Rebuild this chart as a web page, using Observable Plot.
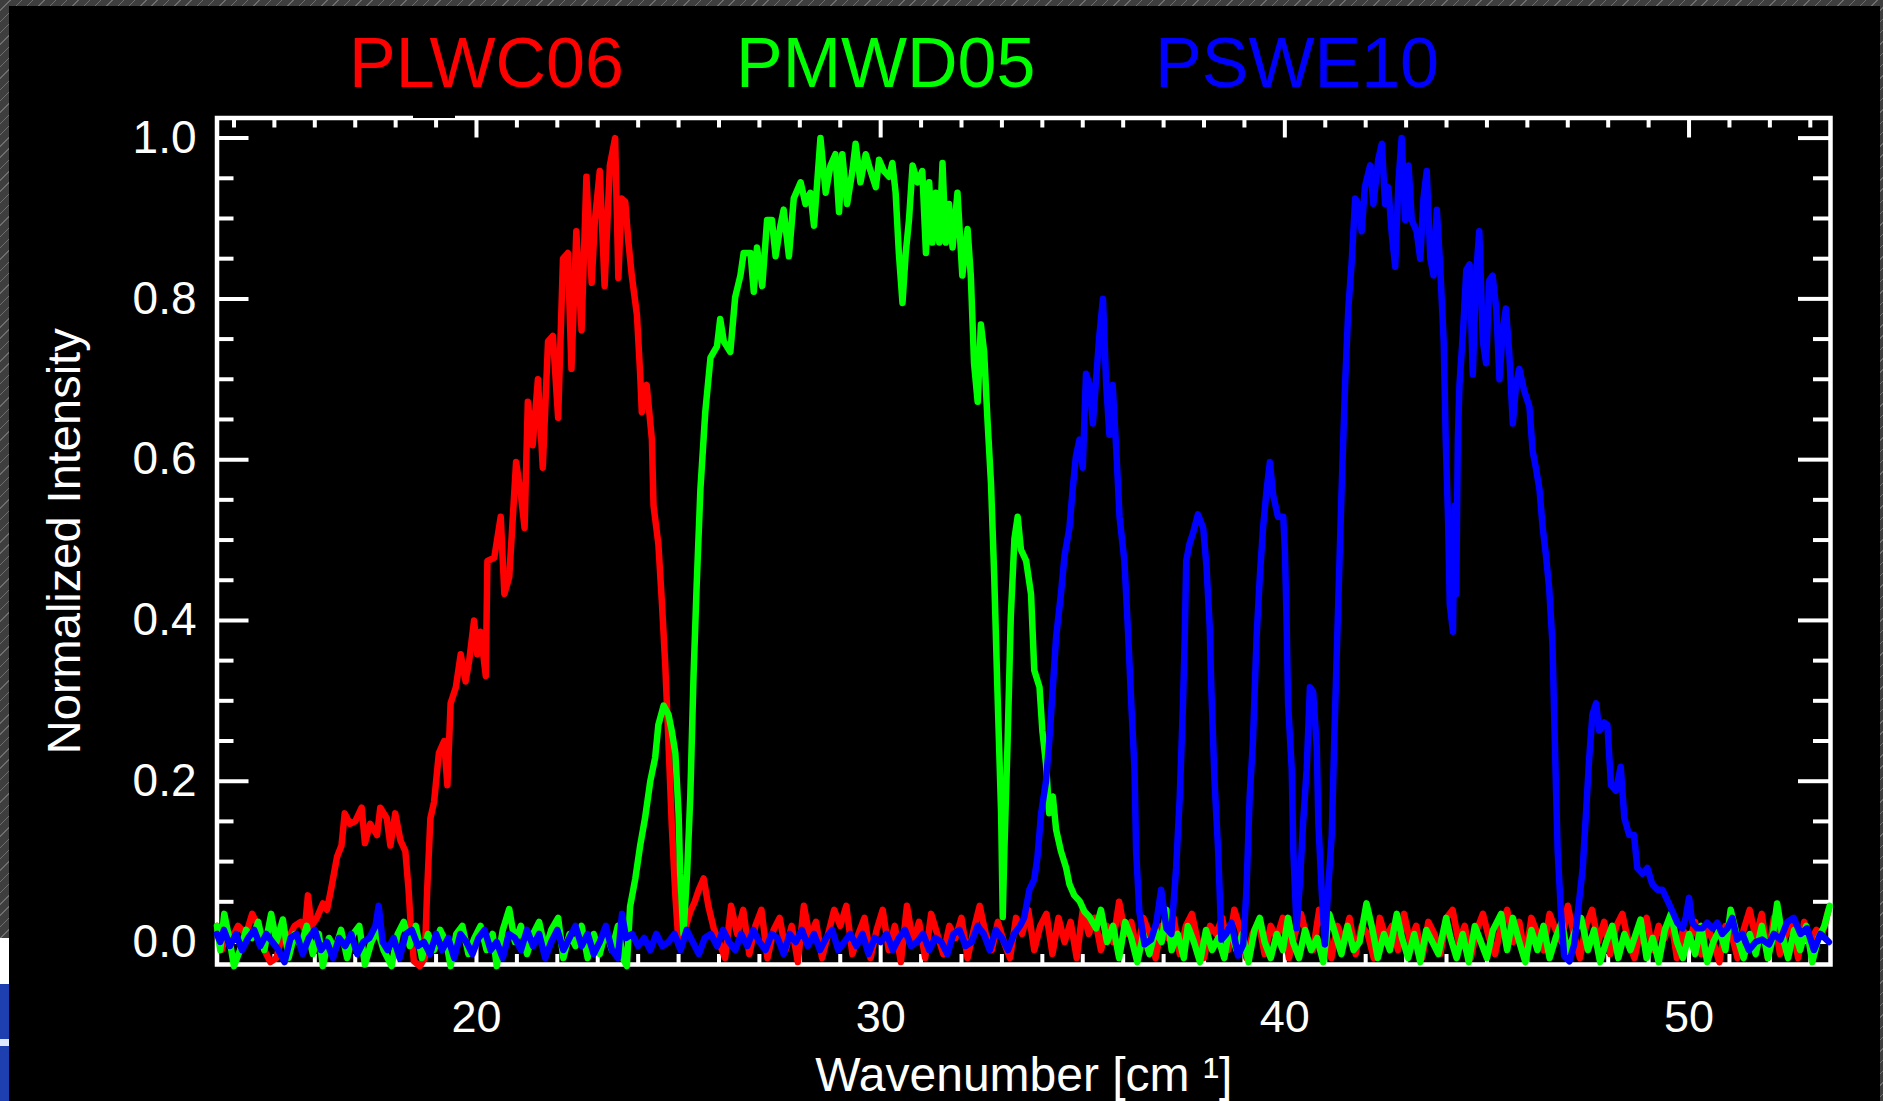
<!DOCTYPE html>
<html>
<head>
<meta charset="utf-8">
<script src="https://cdn.jsdelivr.net/npm/d3@7"></script>
<script src="https://cdn.jsdelivr.net/npm/@observablehq/plot@0.6"></script>
<style>
html,body{margin:0;padding:0;background:#000;}
#wrap{position:relative;width:1883px;height:1101px;overflow:hidden;background:#000;font-family:"Liberation Sans",Arial,Helvetica,sans-serif;}
.hatch{position:absolute;background:repeating-linear-gradient(135deg,#3e3e3e 0 7px,#6e6e6e 7px 8px);}
#legend{position:absolute;left:0;top:0;width:1883px;height:100px;}
#legend span{position:absolute;top:28px;font-size:70px;line-height:70px;white-space:nowrap;}
#chart{position:absolute;left:0;top:100px;}
</style>
</head>
<body>
<div id="wrap">
  <div id="legend"></div>
  <div id="chart"></div>
  <div class="hatch" style="left:0;top:0;width:1883px;height:6px;"></div>
  <div class="hatch" style="left:0;top:0;width:9px;height:938px;"></div>
  <div class="hatch" style="left:1880px;top:0;width:3px;height:1101px;"></div>
  <div style="position:absolute;left:0;top:938px;width:9px;height:163px;background:linear-gradient(#ffffff 0 28%, #1d3fb0 28% 62%, #dfe6ff 62% 66%, #1d3fb0 66% 100%);"></div>
  <div style="position:absolute;left:413px;top:114px;width:42px;height:4px;background:#000;"></div>
</div>
<script>
// ---------- data ----------
const seriesNames = ["PLWC06", "PMWD05", "PSWE10"];
const seriesColors = ["#ff0000", "#00ff00", "#0000ff"];
const xLabel = "Wavenumber [cm \u00b9]";
const yLabel = "Normalized Intensity";
const wavenumberDomain = [13.58, 53.5];
const intensityDomain = [-0.028, 1.025];
const xMajorTicks = [20, 30, 40, 50];
const xMinorTicks = [14,15,16,17,18,19,21,22,23,24,25,26,27,28,29,31,32,33,34,35,36,37,38,39,41,42,43,44,45,46,47,48,49,51,52,53];
const yMajorTicks = [0, 0.2, 0.4, 0.6, 0.8, 1.0];
const yMinorTicks = [0.05,0.1,0.15,0.25,0.3,0.35,0.45,0.5,0.55,0.65,0.7,0.75,0.85,0.9,0.95];

// PLWC06 (red)
const plwc06 = [
[13.58,0.02],[13.7,-0.01],[13.82,0.015],[13.95,0.005],[14.1,0.02],[14.3,0.01],[14.45,0.035],[14.6,0.02],[14.75,-0.01],[14.9,-0.025],[15.05,-0.02],[15.2,0.01],[15.35,0.005],[15.5,0.02],[15.65,0.025],[15.75,0.015],[15.83,0.058],[15.92,0.02],[16.05,0.03],[16.2,0.048],[16.3,0.04],[16.4,0.065],[16.55,0.106],[16.66,0.12],[16.74,0.16],[16.87,0.147],[17.0,0.15],[17.16,0.167],[17.24,0.123],[17.37,0.147],[17.54,0.133],[17.62,0.167],[17.78,0.154],[17.87,0.12],[17.99,0.16],[18.12,0.126],[18.24,0.113],[18.32,0.065],[18.37,0.024],[18.45,-0.024],[18.6,-0.03],[18.72,-0.02],[18.78,0.065],[18.86,0.154],[18.95,0.174],[19.07,0.235],[19.2,0.25],[19.28,0.195],[19.36,0.297],[19.49,0.317],[19.61,0.358],[19.73,0.324],[19.82,0.35],[19.94,0.4],[20.02,0.358],[20.1,0.386],[20.23,0.331],[20.27,0.474],[20.44,0.478],[20.6,0.529],[20.69,0.433],[20.81,0.454],[20.9,0.529],[20.98,0.597],[21.1,0.556],[21.19,0.515],[21.27,0.672],[21.39,0.618],[21.52,0.7],[21.64,0.59],[21.77,0.747],[21.89,0.754],[22.02,0.652],[22.14,0.85],[22.26,0.857],[22.35,0.713],[22.47,0.884],[22.6,0.761],[22.72,0.952],[22.85,0.82],[22.93,0.898],[23.05,0.959],[23.17,0.816],[23.3,0.966],[23.43,1.0],[23.51,0.826],[23.59,0.925],[23.68,0.921],[23.76,0.87],[23.84,0.83],[23.97,0.78],[24.05,0.706],[24.09,0.659],[24.21,0.693],[24.34,0.625],[24.38,0.543],[24.5,0.495],[24.59,0.42],[24.67,0.345],[24.75,0.249],[24.83,0.147],[24.92,0.058],[25.0,-0.003],[25.12,0.01],[25.29,0.038],[25.4,0.05],[25.5,0.065],[25.62,0.079],[25.74,0.044],[25.87,0.017],
[26.0,0.0],[26.15,-0.02],[26.3,0.045],[26.45,0.01],[26.6,0.04],[26.75,-0.015],[26.9,0.02],[27.05,0.04],[27.2,-0.02],[27.35,0.015],[27.5,0.03],[27.65,-0.01],[27.8,0.02],[27.95,-0.025],[28.1,0.045],[28.25,0.005],[28.4,0.025],[28.55,-0.02],[28.7,0.01],[28.85,0.04],[29.0,0.02],[29.15,0.045],[29.3,-0.015],[29.45,0.01],[29.6,0.03],[29.75,-0.02],[29.9,0.015],[30.05,0.04],[30.2,-0.01],[30.35,0.02],[30.5,-0.025],[30.65,0.045],[30.8,0.0],[30.95,0.025],[31.1,-0.02],[31.25,0.035],[31.4,0.01],[31.55,-0.015],[31.7,0.02],[31.85,0.005],[32.0,0.03],[32.15,-0.02],[32.3,0.015],[32.45,0.045],[32.6,0.01],[32.75,-0.01],[32.9,0.025],[33.05,0.0],[33.2,-0.02],[33.35,0.03],[33.5,0.01],[33.65,0.04],[33.8,-0.01],[33.95,0.02],[34.1,0.035],[34.25,-0.015],[34.4,0.03],[34.55,0.0],[34.7,0.025],[34.85,-0.02],[35.0,0.04],[35.15,0.01],[35.3,0.03],[35.45,-0.01],[35.6,0.02],[35.75,0.0],[35.9,0.05],[36.05,0.01],[36.2,0.025],[36.35,-0.015],[36.5,0.03],[36.65,0.01],[36.8,-0.02],[36.95,0.02],[37.1,0.005],[37.25,0.03],[37.4,-0.015],[37.55,0.02],[37.7,0.035],[37.85,0.0],[38.0,-0.02],[38.15,0.02],[38.3,0.01],[38.45,0.03],[38.6,-0.01],[38.75,0.04],[38.9,0.015],[39.05,-0.02],[39.2,0.01],[39.35,0.025],[39.5,-0.015],[39.65,0.02],[39.8,0.005],[39.95,0.03],[40.1,-0.02],[40.25,0.01],[40.4,0.035],[40.55,0.005],[40.7,-0.01],[40.85,0.04],[41.0,0.015],[41.15,-0.02],[41.3,0.02],[41.45,0.0],[41.6,0.03],[41.75,-0.015],[41.9,0.02],[42.05,0.01],[42.2,-0.02],[42.35,0.03],[42.5,0.005],[42.65,0.02],[42.8,-0.01],[42.95,0.035],[43.1,0.0],[43.25,0.02],[43.4,-0.02],[43.55,0.025],[43.7,0.01],[43.85,-0.015],[44.0,0.03],[44.15,0.04],[44.3,0.0],[44.45,0.02],[44.6,-0.02],[44.75,0.015],[44.9,0.035],[45.05,0.005],[45.2,-0.015],[45.35,0.02],[45.5,0.04],[45.65,0.0],[45.8,0.025],[45.95,-0.02],[46.1,0.03],[46.25,0.01],[46.4,-0.01],[46.55,0.035],[46.7,0.015],[46.85,0.0],[47.0,0.045],[47.15,0.01],[47.3,-0.02],[47.45,0.02],[47.6,0.04],[47.75,0.0],[47.9,0.025],[48.05,-0.015],[48.2,0.02],[48.35,0.035],[48.5,0.0],[48.65,-0.02],[48.8,0.015],[48.95,0.03],[49.1,-0.01],[49.25,0.02],[49.4,0.005],[49.55,0.03],[49.7,-0.02],[49.85,0.015],[50.0,0.0],[50.15,0.025],[50.3,-0.015],[50.45,0.02],[50.6,0.0],[50.75,-0.025],[50.9,0.02],[51.05,0.01],[51.2,-0.02],[51.35,0.015],[51.5,0.04],[51.65,0.005],[51.8,0.035],[51.95,-0.02],[52.1,0.03],[52.25,-0.015],[52.4,0.01],[52.55,0.02],[52.7,-0.02],[52.85,0.025],[53.0,0.0],[53.15,0.015],[53.3,0.01],[53.45,0.04]
];

// PMWD05 (green)
const pmwd05 = [
[13.58,0.02],[13.66,-0.01],[13.76,0.035],[13.9,0.0],[14.0,-0.03],[14.15,-0.01],[14.3,0.015],[14.45,0.005],[14.6,0.025],[14.75,-0.01],[14.92,0.035],[15.05,0.0],[15.21,0.028],[15.35,-0.02],[15.5,0.01],[15.65,-0.005],[15.8,0.02],[15.95,-0.015],[16.1,0.01],[16.2,-0.03],[16.35,0.005],[16.5,-0.01],[16.65,0.015],[16.8,-0.02],[16.95,0.01],[17.1,0.02],[17.24,-0.028],[17.4,0.0],[17.55,0.015],[17.7,-0.01],[17.9,-0.03],[18.05,0.01],[18.2,0.025],[18.35,-0.005],[18.5,0.02],[18.65,-0.02],[18.8,0.01],[18.95,-0.01],[19.1,0.015],[19.25,0.0],[19.36,-0.03],[19.5,0.01],[19.65,0.02],[19.8,-0.015],[19.95,0.005],[20.1,0.02],[20.25,-0.01],[20.4,0.01],[20.5,-0.03],[20.65,0.015],[20.81,0.041],[20.95,0.0],[21.1,0.02],[21.25,-0.015],[21.4,0.01],[21.55,0.025],[21.7,-0.01],[21.85,0.015],[22.02,0.03],[22.15,-0.02],[22.3,0.01],[22.45,-0.005],[22.6,0.02],[22.75,-0.02],[22.9,0.01],[23.05,-0.015],[23.2,0.015],[23.35,-0.01],[23.5,0.02],[23.62,-0.02],[23.72,-0.03],
[23.8,0.044],[23.93,0.079],[24.05,0.12],[24.17,0.154],[24.3,0.2],[24.42,0.229],[24.5,0.27],[24.63,0.294],[24.75,0.283],[24.83,0.263],[24.92,0.235],[25.0,0.16],[25.04,0.085],[25.12,0.01],[25.21,0.085],[25.29,0.181],[25.37,0.331],[25.45,0.447],[25.54,0.563],[25.66,0.659],[25.79,0.727],[25.95,0.741],[26.03,0.775],[26.12,0.747],[26.28,0.734],[26.4,0.802],[26.53,0.829],[26.61,0.857],[26.78,0.857],[26.86,0.809],[26.94,0.864],[27.07,0.816],[27.19,0.898],[27.31,0.898],[27.4,0.853],[27.52,0.891],[27.6,0.911],[27.73,0.853],[27.85,0.925],[28.02,0.945],[28.14,0.918],[28.26,0.932],[28.35,0.891],[28.43,0.945],[28.51,1.0],[28.64,0.932],[28.76,0.966],[28.88,0.98],[28.97,0.908],[29.05,0.98],[29.17,0.918],[29.3,0.959],[29.38,0.993],[29.5,0.945],[29.63,0.98],[29.75,0.959],[29.88,0.939],[29.96,0.973],[30.08,0.959],[30.21,0.952],[30.29,0.969],[30.37,0.932],[30.45,0.857],[30.54,0.795],[30.62,0.857],[30.7,0.898],[30.79,0.966],[30.91,0.945],[31.03,0.959],[31.12,0.857],[31.2,0.945],[31.28,0.87],[31.36,0.932],[31.45,0.87],[31.53,0.969],[31.61,0.87],[31.69,0.918],[31.78,0.864],[31.9,0.932],[32.02,0.829],[32.15,0.887],[32.23,0.829],[32.31,0.72],[32.4,0.672],[32.48,0.768],[32.56,0.734],[32.64,0.652],[32.73,0.57],[32.81,0.454],[32.89,0.311],[32.98,0.16],[33.02,0.031],[33.06,0.113],[33.14,0.249],[33.22,0.406],[33.31,0.502],[33.39,0.529],[33.47,0.488],[33.6,0.474],[33.72,0.433],[33.8,0.338],[33.93,0.317],[34.0,0.263],[34.09,0.222],[34.17,0.16],[34.26,0.181],[34.34,0.14],[34.46,0.113],[34.59,0.092],[34.67,0.072],[34.79,0.058],[34.92,0.051],[35.04,0.038],[35.17,0.031],[35.33,0.017],
[35.45,0.04],[35.6,0.0],[35.75,0.02],[35.9,-0.02],[36.05,0.025],[36.2,0.005],[36.35,-0.025],[36.5,0.01],[36.65,-0.015],[36.8,0.015],[36.95,0.0],[37.07,0.04],[37.2,-0.01],[37.35,0.01],[37.5,-0.02],[37.6,0.02],[37.75,0.0],[37.9,-0.025],[38.05,0.015],[38.2,-0.01],[38.35,0.005],[38.5,-0.02],[38.64,0.02],[38.8,-0.01],[38.95,0.01],[39.1,-0.025],[39.25,0.015],[39.38,0.03],[39.5,0.0],[39.65,-0.02],[39.8,0.01],[39.95,-0.01],[40.08,0.03],[40.2,0.0],[40.35,-0.02],[40.5,0.015],[40.65,-0.01],[40.8,0.005],[40.95,-0.025],[41.1,0.035],[41.25,0.01],[41.4,-0.015],[41.55,0.02],[41.7,-0.01],[41.85,0.0],[42.02,0.048],[42.15,0.02],[42.3,-0.02],[42.45,0.01],[42.6,-0.01],[42.77,0.035],[42.9,0.005],[43.05,-0.02],[43.2,0.01],[43.35,-0.025],[43.5,0.015],[43.65,0.0],[43.8,-0.015],[43.99,0.03],[44.1,0.005],[44.25,-0.02],[44.4,0.01],[44.55,-0.025],[44.7,0.02],[44.85,0.0],[45.0,-0.02],[45.15,0.015],[45.35,0.035],[45.5,-0.01],[45.64,0.03],[45.8,0.0],[45.95,-0.025],[46.1,0.015],[46.25,-0.01],[46.4,0.02],[46.55,-0.02],[46.7,0.005],[46.85,0.025],[47.0,-0.015],[47.15,0.01],[47.33,0.03],[47.5,-0.01],[47.65,0.015],[47.8,-0.025],[47.95,0.0],[48.1,0.02],[48.25,-0.02],[48.4,0.01],[48.55,-0.01],[48.8,0.028],[48.95,-0.02],[49.1,0.005],[49.25,-0.025],[49.4,0.015],[49.55,0.035],[49.7,0.0],[49.85,-0.02],[50.0,0.01],[50.15,-0.015],[50.3,0.02],[50.45,-0.025],[50.6,0.0],[50.75,0.015],[50.9,-0.01],[51.03,0.04],[51.2,0.005],[51.35,-0.02],[51.5,0.01],[51.65,-0.015],[51.8,0.02],[51.95,-0.02],[52.05,0.0],[52.18,0.048],[52.3,0.01],[52.45,-0.02],[52.6,0.015],[52.75,-0.01],[52.9,0.02],[53.05,-0.025],[53.2,0.005],[53.35,0.02],[53.48,0.045]
];

// PSWE10 (blue)
const pswe10 = [
[13.58,0.01],[13.66,0.0],[13.75,0.015],[13.9,-0.005],[14.05,0.01],[14.2,-0.01],[14.35,0.005],[14.5,0.015],[14.65,-0.005],[14.8,0.01],[14.95,0.0],[15.1,-0.01],[15.25,-0.025],[15.4,0.005],[15.55,0.01],[15.7,-0.015],[15.85,0.005],[16.0,0.015],[16.15,-0.01],[16.3,0.0],[16.45,-0.02],[16.6,0.005],[16.75,-0.005],[16.9,0.01],[17.05,-0.015],[17.2,0.0],[17.35,0.005],[17.5,0.02],[17.58,0.045],[17.68,0.0],[17.8,-0.01],[17.95,0.005],[18.1,-0.02],[18.25,0.01],[18.4,0.015],[18.55,-0.005],[18.7,0.0],[18.85,-0.015],[19.0,0.01],[19.15,-0.01],[19.3,0.005],[19.45,-0.02],[19.6,0.01],[19.75,0.0],[19.9,-0.015],[20.05,0.005],[20.2,0.015],[20.35,-0.01],[20.5,0.0],[20.65,-0.02],[20.8,0.01],[20.95,0.005],[21.1,-0.01],[21.25,0.015],[21.4,-0.005],[21.55,0.01],[21.7,-0.02],[21.85,0.0],[22.0,0.015],[22.15,-0.01],[22.3,0.005],[22.45,0.02],[22.6,-0.005],[22.75,0.01],[22.9,-0.015],[23.05,0.0],[23.2,0.02],[23.35,-0.01],[23.5,-0.02],[23.6,0.035],[23.7,0.005],[23.85,0.01],[24.0,-0.005],[24.15,0.005],[24.3,-0.01],[24.45,0.01],[24.6,-0.005],[24.75,0.0],[24.9,0.01],[25.05,-0.01],[25.2,0.015],[25.35,0.0],[25.5,-0.015],[25.65,0.005],[25.8,0.01],[25.95,-0.005],[26.1,0.015],[26.25,0.0],[26.4,-0.01],[26.55,0.01],[26.7,-0.005],[26.85,0.015],[27.0,0.0],[27.15,-0.01],[27.3,0.01],[27.45,0.005],[27.6,-0.015],[27.75,0.01],[27.9,0.0],[28.05,0.015],[28.2,-0.005],[28.35,0.01],[28.5,-0.01],[28.65,0.005],[28.8,0.015],[28.95,-0.01],[29.1,0.0],[29.25,0.01],[29.4,-0.005],[29.55,0.01],[29.7,-0.015],[29.85,0.005],[30.0,0.0],[30.15,0.01],[30.3,-0.01],[30.45,0.005],[30.6,0.015],[30.75,-0.005],[30.9,0.0],[31.05,0.01],[31.2,-0.01],[31.35,0.005],[31.5,0.0],[31.65,-0.015],[31.8,0.01],[31.95,0.015],[32.1,-0.005],[32.25,0.0],[32.4,0.02],[32.55,0.01],[32.7,-0.01],[32.85,0.015],[33.0,0.005],[33.15,-0.01],[33.3,0.01],[33.45,0.02],
[33.55,0.03],[33.68,0.065],[33.8,0.078],[33.88,0.106],[33.97,0.16],[34.09,0.2],[34.17,0.249],[34.26,0.317],[34.34,0.379],[34.46,0.433],[34.55,0.481],[34.67,0.515],[34.75,0.563],[34.83,0.604],[34.92,0.625],[35.0,0.59],[35.08,0.707],[35.17,0.693],[35.25,0.645],[35.33,0.7],[35.41,0.754],[35.5,0.8],[35.58,0.693],[35.66,0.631],[35.74,0.693],[35.83,0.611],[35.91,0.529],[36.03,0.474],[36.12,0.386],[36.2,0.297],[36.28,0.215],[36.32,0.113],[36.4,0.038],[36.53,-0.003],[36.69,0.003],[36.82,0.024],[36.94,0.065],[37.07,0.017],[37.19,0.01],[37.31,0.092],[37.4,0.181],[37.48,0.297],[37.52,0.372],[37.56,0.474],[37.64,0.495],[37.73,0.509],[37.85,0.532],[37.98,0.515],[38.06,0.468],[38.14,0.393],[38.18,0.317],[38.26,0.2],[38.35,0.113],[38.43,0.003],[38.55,0.01],[38.68,0.024],[38.84,-0.017],[38.97,-0.003],[39.05,0.065],[39.13,0.181],[39.21,0.249],[39.3,0.379],[39.38,0.454],[39.46,0.515],[39.55,0.563],[39.63,0.597],[39.71,0.556],[39.83,0.529],[39.96,0.529],[40.0,0.488],[40.04,0.406],[40.08,0.297],[40.17,0.215],[40.21,0.113],[40.29,0.017],[40.37,0.072],[40.45,0.147],[40.54,0.215],[40.62,0.317],[40.7,0.311],[40.79,0.242],[40.83,0.147],[40.91,0.065],[40.99,-0.003],[41.07,0.065],[41.16,0.133],[41.24,0.283],[41.32,0.42],[41.4,0.556],[41.49,0.693],[41.57,0.788],[41.65,0.843],[41.74,0.925],[41.82,0.918],[41.9,0.884],[41.98,0.939],[42.11,0.966],[42.19,0.918],[42.31,0.973],[42.4,0.993],[42.48,0.918],[42.56,0.939],[42.64,0.884],[42.73,0.84],[42.81,0.945],[42.89,1.0],[42.98,0.898],[43.06,0.966],[43.14,0.898],[43.26,0.884],[43.35,0.85],[43.43,0.925],[43.51,0.959],[43.6,0.85],[43.68,0.829],[43.76,0.911],[43.84,0.843],[43.93,0.747],[43.98,0.625],[44.04,0.522],[44.08,0.42],[44.16,0.386],[44.2,0.543],[44.24,0.433],[44.28,0.625],[44.32,0.693],[44.41,0.761],[44.49,0.836],[44.57,0.843],[44.65,0.706],[44.73,0.829],[44.81,0.884],[44.9,0.747],[44.98,0.72],[45.06,0.823],[45.14,0.829],[45.23,0.788],[45.31,0.7],[45.39,0.761],[45.47,0.788],[45.55,0.734],[45.64,0.645],[45.72,0.693],[45.8,0.713],[45.92,0.686],[46.05,0.666],[46.13,0.611],[46.21,0.59],[46.3,0.563],[46.38,0.515],[46.46,0.481],[46.54,0.44],[46.62,0.372],[46.67,0.27],[46.71,0.188],[46.75,0.113],[46.83,0.038],[46.91,-0.017],[47.04,-0.024],[47.16,-0.003],[47.28,0.051],[47.37,0.092],[47.45,0.16],[47.53,0.229],[47.61,0.283],[47.7,0.297],[47.78,0.263],[47.9,0.273],[47.98,0.27],[48.07,0.195],[48.19,0.188],[48.31,0.218],[48.4,0.154],[48.52,0.133],[48.64,0.133],[48.72,0.092],[48.85,0.085],[48.97,0.092],[49.09,0.072],[49.22,0.065],[49.34,0.065],[49.47,0.051],[49.59,0.038],[49.71,0.024],[49.84,0.017],[49.92,0.031],[50.0,0.055],[50.08,0.024],[50.2,0.017],[50.33,0.017],[50.45,0.024],[50.58,0.017],[50.7,0.024],[50.82,0.01],[50.95,0.017],[51.07,0.03],[51.19,0.003],[51.32,0.01],[51.48,-0.01],[51.65,0.0],[51.81,0.003],[51.98,-0.003],[52.1,0.01],[52.26,0.003],[52.43,0.025],[52.59,0.03],[52.76,0.01],[52.92,0.017],[53.09,-0.01],[53.25,0.01],[53.46,0.0]
];
const allSeries = [plwc06, pmwd05, pswe10];

// ---------- legend (HTML above the plot) ----------
const legendLeft = [349, 736, 1155];
const legend = document.getElementById("legend");
seriesNames.forEach((name, i) => {
  const s = document.createElement("span");
  s.textContent = name;
  s.style.color = seriesColors[i];
  s.style.left = legendLeft[i] + "px";
  legend.appendChild(s);
});

// ---------- plot ----------
const W = 1883, H = 1001, mL = 216.5, mR = 53, mT = 17.5, mB = 137;
const pw = W - mL - mR, ph = H - mT - mB;
const tw = 4;
const white = "#ffffff";
const font = "'Liberation Sans', Arial, Helvetica, sans-serif";

const chart = Plot.plot({
  width: W, height: H,
  marginLeft: mL, marginRight: mR, marginTop: mT, marginBottom: mB,
  style: {background: "#000", color: white, fontFamily: font, overflow: "visible"},
  x: {domain: wavenumberDomain},
  y: {domain: intensityDomain},
  marks: [
    Plot.tickX(xMinorTicks, {x: d => d, stroke: white, strokeWidth: tw, insetTop: ph - 10}),
    Plot.tickX(xMinorTicks, {x: d => d, stroke: white, strokeWidth: tw, insetBottom: ph - 10}),
    Plot.tickX(xMajorTicks, {x: d => d, stroke: white, strokeWidth: tw, insetTop: ph - 20}),
    Plot.tickX(xMajorTicks, {x: d => d, stroke: white, strokeWidth: tw, insetBottom: ph - 20}),
    Plot.tickY(yMinorTicks, {y: d => d, stroke: white, strokeWidth: tw, insetRight: pw - 17}),
    Plot.tickY(yMinorTicks, {y: d => d, stroke: white, strokeWidth: tw, insetLeft: pw - 17}),
    Plot.tickY(yMajorTicks, {y: d => d, stroke: white, strokeWidth: tw, insetRight: pw - 32}),
    Plot.tickY(yMajorTicks, {y: d => d, stroke: white, strokeWidth: tw, insetLeft: pw - 32}),
    Plot.frame({stroke: white, strokeWidth: 4.5}),
    Plot.axisX({ticks: xMajorTicks, anchor: "bottom", tickSize: 0, tickPadding: 36, fontSize: 45, fill: white, tickFormat: d => String(d), label: null}),
    Plot.axisY({ticks: yMajorTicks, anchor: "left", tickSize: 0, tickPadding: 20.5, fontSize: 46, fill: white, tickFormat: d3.format(".1f"), label: null}),
    Plot.text([xLabel], {text: d => d, frameAnchor: "bottom", textAnchor: "middle", lineAnchor: "bottom", dy: 126, fontSize: 48, fill: white}),
    Plot.text([yLabel], {text: d => d, frameAnchor: "left", textAnchor: "middle", lineAnchor: "bottom", rotate: -90, dx: -137, fontSize: 47, fill: white}),
    ...allSeries.map((s, i) => Plot.line(s, {x: d => d[0], y: d => d[1], stroke: seriesColors[i], strokeWidth: 6.5}))
  ]
});
document.getElementById("chart").appendChild(chart);
</script>
</body>
</html>
